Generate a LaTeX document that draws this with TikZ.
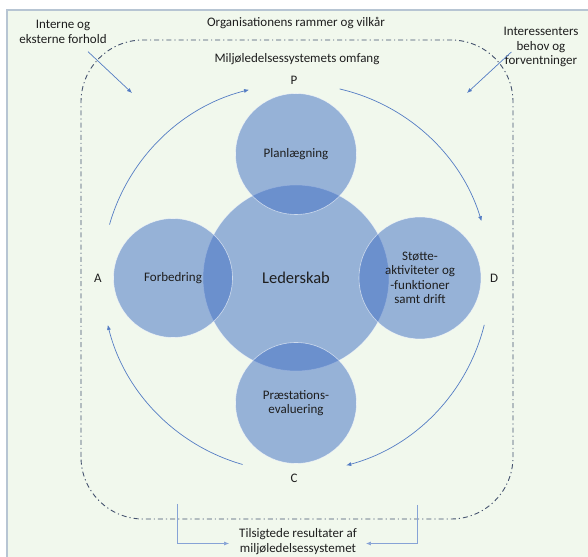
\documentclass[tikz,border=0pt]{standalone}
\usepackage{fontspec}
\setmainfont{Carlito}
\usepackage{tikz}
\usetikzlibrary{arrows.meta,calc}
\definecolor{panel} {RGB} {241, 248, 237}
\definecolor{panelrim} {RGB} {183, 197, 211}
\definecolor{ring} {RGB} {68, 114, 196}
\definecolor{flowblue} {RGB} {84, 124, 196}
\definecolor{scopegray} {RGB} {68, 82, 110}
\definecolor{txt} {RGB} {30, 30, 30}
\tikzstyle{pdca}=[
  x=1pt, y=1pt, >={Latex[length=5pt,width=4pt]}, font=\fontsize{13}{14.5}\selectfont, text=txt
]
\tikzstyle{bubble}=[circle, inner sep=0pt, align=center, fill=ring, fill opacity=0.52,
  text opacity=1, draw=white, draw opacity=0.6, line width=0.6pt]
\tikzstyle{flow}=[->, draw=flowblue, line width=0.7pt]
\tikzstyle{lbl}=[align=center, inner sep=2pt]

\begin{document}
\begin{tikzpicture}[pdca]
      \clip (0,0) rectangle (588,556);
      \fill[white] (0,0) rectangle (588,556);
      \draw[panelrim, fill=panel, line width=1.2pt] (7,-10) rectangle (600,546);
      \draw[scopegray, line width=0.9pt, dash pattern=on 5pt off 3pt on 1.2pt off 3pt,
        rounded corners=62pt] (81,37) rectangle (513,516);

      \node[bubble, minimum size=186pt, font=\fontsize{16.5}{18}\selectfont] (lead) at (296,278) {Lederskab};
      \node[bubble, minimum size=121pt] (plan) at (296,402) {Planlægning};
      \node[bubble, minimum size=119pt] (improve) at (173,278) {Forbedring};
      \node[bubble, minimum size=122pt] (support) at (420,278) {Støtte-\\aktiviteter og\\-funktioner\\samt drift};
      \node[bubble, minimum size=121pt] (perform) at (296,153) {Præstations-\\evaluering};

      \node[lbl] (frame) at (296,533) {Organisationens rammer og vilkår};
      \node[lbl] (scope) at (297,497) {Miljøledelsessystemets omfang};
      \node[lbl] (ext) at (63,524) {Interne og\\eksterne forhold};
      \node[lbl] (stake) at (541,509) {Interessenters\\behov og\\forventninger};
      \node[lbl] (res) at (298,14.5) {Tilsigtede resultater af\\miljøledelsessystemet};
      \node (P) at (294,476) {P};
      \node (D) at (494,278) {D};
      \node (C) at (294,78) {C};
      \node (A) at (98,278) {A};

      \draw[flow] ([shift={(164:194)}]lead.center) arc[start angle=164, end angle=104, radius=194];
      \draw[flow] ([shift={(77:194)}]lead.center) arc[start angle=77, end angle=17, radius=194];
      \draw[flow] ([shift={(-14:194)}]lead.center) arc[start angle=-14, end angle=-75, radius=194];
      \draw[flow] ([shift={(-106:194)}]lead.center) arc[start angle=-106, end angle=-166, radius=194];

      \coordinate (extin) at (132,463);
      \coordinate (stakein) at (467,463);
      \draw[flow] ($(ext.south)+(25,-6)$) -- (extin);
      \draw[flow] ($(stake.west)+(10,-5)$) -- (stakein);

      \coordinate (resl) at (177,52);
      \coordinate (resr) at (417,51);
      \draw[flow, draw=flowblue!70] (resl) |- ([xshift=-8pt,yshift=-2pt]res.west);
      \draw[flow, draw=flowblue!70] (resr) |- ([xshift=7pt,yshift=-2pt]res.east);
    \end{tikzpicture}
\end{document}
